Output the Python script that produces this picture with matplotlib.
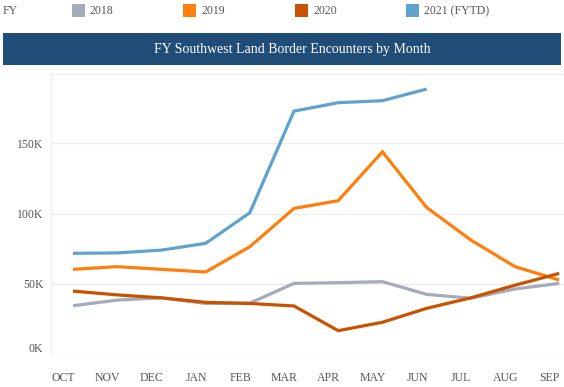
import matplotlib
matplotlib.use("Agg")
import matplotlib.pyplot as plt
from matplotlib.patches import Rectangle
from matplotlib.ticker import FuncFormatter
from matplotlib.transforms import ScaledTranslation

months = ["OCT", "NOV", "DEC", "JAN", "FEB", "MAR", "APR", "MAY", "JUN", "JUL", "AUG", "SEP"]
fy2018 = [34400, 38400, 40000, 36000, 36200, 50300, 50800, 51500, 42500, 39700, 46300, 50300]
fy2019 = [60300, 62200, 60300, 58400, 76400, 103700, 109200, 144000, 104400, 81200, 62200, 52700]
fy2020 = [44800, 42100, 40000, 36800, 36000, 34200, 16600, 22600, 32500, 40000, 49000, 57400]
fy2021 = [71700, 72000, 74000, 78800, 100600, 173000, 179000, 180400, 188700]
series_labels = ["2018", "2019", "2020", "2021 (FYTD)"]
colors = ["#a5acb9", "#ff7f0e", "#c85200", "#5fa2ce"]
yticks = [0, 50000, 100000, 150000]

W, H = 564, 387
fig = plt.figure(figsize=(W / 100, H / 100), dpi=100)
plt.rcParams["font.family"] = ["Liberation Serif", "DejaVu Serif"]

def fx(px):
    return px / W

def fy(py):
    return 1 - py / H

# Legend row
fig.text(fx(3), fy(11), "FY", fontsize=8.5, color="#555555", va="center", ha="left")
sq_x = [72, 183, 295, 406]
for x, lab, c in zip(sq_x, series_labels, colors):
    fig.patches.append(Rectangle((fx(x), fy(17)), 13 / W, 13 / H, transform=fig.transFigure,
                                 facecolor=c, edgecolor="none"))
    fig.text(fx(x + 18), fy(11), lab, fontsize=8.5, color="#555555", va="center", ha="left")

# Title bar
fig.patches.append(Rectangle((fx(3), fy(65)), (561 - 3) / W, (65 - 33) / H, transform=fig.transFigure,
                             facecolor="#204d77", edgecolor="none"))
fig.text(fx(292), fy(49), "FY Southwest Land Border Encounters by Month", fontsize=10,
         color="white", va="center", ha="center")

# Axes
left, right, top, bottom = 51, 564, 74, 354
ax = fig.add_axes([fx(left), fy(bottom), (right - left) / W, (bottom - top) / H])
x = list(range(len(months)))
for data, c in zip([fy2018, fy2019, fy2020, fy2021], colors):
    ax.plot(x[:len(data)], data, color=c, lw=2.3, solid_capstyle="butt", solid_joinstyle="miter")

spacing = 44.2
ax.set_xlim(-(73 - left) / spacing, (right - 73) / spacing)
ax.set_ylim(0, (bottom - top) / 70.2 * 50000)
ax.set_yticks(yticks)
ax.yaxis.set_major_formatter(FuncFormatter(lambda v, p: f"{int(v / 1000)}K"))
ax.set_xticks(x)
ax.set_xticklabels(months)
ax.tick_params(axis="both", length=0, labelsize=8.5, labelcolor="#555555")
ax.tick_params(axis="x", pad=13)
ax.tick_params(axis="y", pad=5.5)
shift = ScaledTranslation(-9.5 / 100, 0, fig.dpi_scale_trans)
for lbl in ax.get_xticklabels():
    lbl.set_transform(lbl.get_transform() + shift)
ylbls = ax.get_yticklabels()
ylbls[0].set_transform(ylbls[0].get_transform() + ScaledTranslation(0, 7 / 100, fig.dpi_scale_trans))
ax.grid(axis="y", color="#ececec", lw=0.8)
ax.set_axisbelow(True)
for s in ["right", "bottom"]:
    ax.spines[s].set_visible(False)
for s in ["left", "top"]:
    ax.spines[s].set_color("#ececec")
    ax.spines[s].set_linewidth(0.8)

fig.savefig("out.png", dpi=100)
